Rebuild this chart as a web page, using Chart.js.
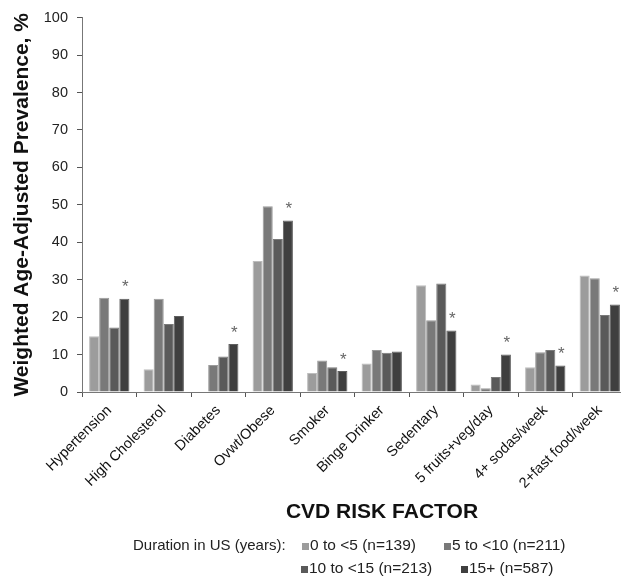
<!DOCTYPE html>
<html>
<head>
<meta charset="utf-8">
<script src="https://cdn.jsdelivr.net/npm/chart.js@4/dist/chart.umd.min.js"></script>
<style>
  html, body { margin: 0; padding: 0; overflow: hidden; background: #fff; }
  .wrap { position: relative; width: 640px; height: 579px; }
  .txt { position: absolute; font: 15px/18px "Liberation Sans", Arial, sans-serif; color: #222; white-space: nowrap; }
  .item { font-size: 15.5px; }
  .box { position: absolute; width: 7px; height: 7px; }
  .xtitle { position: absolute; font: bold 21px/24px "Liberation Sans", Arial, sans-serif; color: #111; white-space: nowrap; transform: translateX(-50%); }
</style>
</head>
<body>
<div class="wrap">
  <canvas id="chart" width="640" height="579"></canvas>
</div>
<script>
const categories = ['Hypertension', 'High Cholesterol', 'Diabetes', 'Ovwt/Obese', 'Smoker',
  'Binge Drinker', 'Sedentary', '5 fruits+veg/day', '4+ sodas/week', '2+fast food/week'];
const seriesNames = ['0 to <5 (n=139)', '5 to <10 (n=211)', '10 to <15 (n=213)', '15+ (n=587)'];
const dur0to5 = [14.9, 6.1, null, 35.0, 5.1, 7.6, 28.5, 2.0, 6.6, 31.1];
const dur5to10 = [25.2, 24.9, 7.2, 49.6, 8.4, 11.2, 19.2, 1.0, 10.6, 30.4];
const dur10to15 = [17.2, 18.2, 9.5, 40.9, 6.6, 10.5, 29.0, 4.0, 11.2, 20.6];
const dur15plus = [24.9, 20.3, 12.8, 45.8, 5.6, 10.8, 16.4, 10.0, 7.1, 23.4];
const significant = [true, false, true, true, true, false, true, true, true, true];
const yTicks = [0, 10, 20, 30, 40, 50, 60, 70, 80, 90, 100];

const colors = ['#9c9c9c', '#797979', '#5a5a5a', '#3f3f3f'];
const edges = ['#bdbdbd', '#9a9a9a', '#7a7a7a', '#5f5f5f'];
const FONT = '"Liberation Sans", Arial, sans-serif';

const asteriskPlugin = {
  id: 'asterisks',
  afterDatasetsDraw(chart) {
    const ctx = chart.ctx;
    const meta = chart.getDatasetMeta(3);
    ctx.save();
    ctx.fillStyle = '#666';
    ctx.font = '17px ' + FONT;
    ctx.textAlign = 'center';
    ctx.textBaseline = 'middle';
    significant.forEach((sig, i) => {
      if (!sig) return;
      const bar = meta.data[i];
      ctx.fillText('*', bar.x + 1, bar.y - 11);
    });
    ctx.restore();
  }
};

const allSeries = [dur0to5, dur5to10, dur10to15, dur15plus];

new Chart(document.getElementById('chart'), {
  type: 'bar',
  data: {
    labels: categories,
    datasets: allSeries.map((vals, i) => ({
      label: seriesNames[i],
      data: vals,
      backgroundColor: colors[i],
      borderColor: edges[i],
      borderWidth: 1,
      categoryPercentage: 0.74,
      barPercentage: 1.0,
    })),
  },
  options: {
    responsive: false,
    animation: false,
    layout: { padding: { top: 16, right: 13, bottom: 77, left: 0 } },
    plugins: {
      legend: { display: false },
      tooltip: { enabled: false },
    },
    scales: {
      x: {
        grid: { drawOnChartArea: false, offset: true, color: '#555', tickLength: 5 },
        border: { color: '#777', width: 1 },
        ticks: { color: '#111', font: { family: FONT, size: 14.5 }, minRotation: 45, maxRotation: 45, padding: 5, autoSkip: false },
        afterFit(scale) { scale.height = 110; },
      },
      y: {
        min: 0,
        max: 100,
        afterBuildTicks(scale) { scale.ticks = yTicks.map((v) => ({ value: v })); },
        grid: { drawOnChartArea: false, color: '#555', tickLength: 5 },
        border: { color: '#777', width: 1 },
        ticks: { color: '#222', font: { family: FONT, size: 14.5 }, padding: 9 },
        title: { display: true, text: 'Weighted Age-Adjusted Prevalence, %', color: '#111', font: { family: FONT, size: 21, weight: 'bold' }, padding: { top: 10, bottom: 2 } },
        afterFit(scale) { scale.width = 82; },
      },
    },
  },
  plugins: [asteriskPlugin],
});

// axis title and legend as html text below the chart
const wrap = document.querySelector('.wrap');
function addText(cls, text, left, top) {
  const el = document.createElement('div');
  el.className = cls;
  el.style.left = left + 'px';
  el.style.top = top + 'px';
  el.textContent = text;
  wrap.appendChild(el);
}
addText('xtitle', 'CVD RISK FACTOR', 382, 499);
addText('txt', 'Duration  in US (years):', 133, 536);
const boxPos = [[302, 543], [444, 543], [301, 566], [461, 566]];
seriesNames.forEach((name, i) => {
  const box = document.createElement('div');
  box.className = 'box';
  box.style.left = boxPos[i][0] + 'px';
  box.style.top = boxPos[i][1] + 'px';
  box.style.background = colors[i];
  wrap.appendChild(box);
  addText('txt item', name, boxPos[i][0] + 8, boxPos[i][1] - 7);
});
</script>
</body>
</html>
